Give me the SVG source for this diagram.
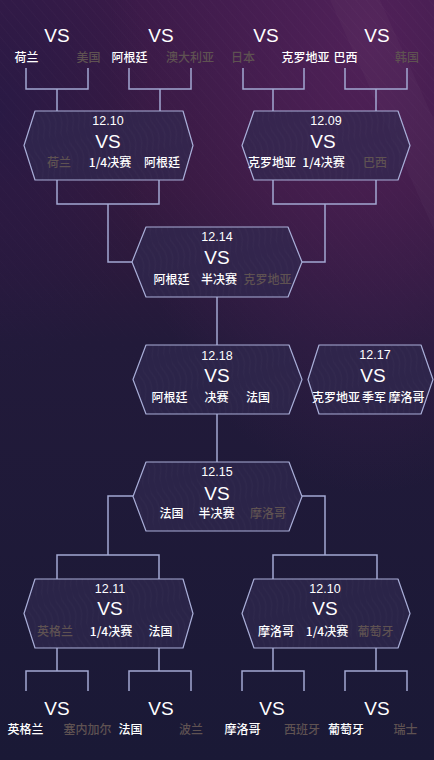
<svg xmlns="http://www.w3.org/2000/svg" width="434" height="760" viewBox="0 0 434 760">
<defs>
<linearGradient id="bg" x1="0" y1="0" x2="0" y2="1">
<stop offset="0" stop-color="#3a1a48"/>
<stop offset="0.25" stop-color="#34193f"/>
<stop offset="0.45" stop-color="#221a3a"/>
<stop offset="1" stop-color="#1a1936"/>
</linearGradient>
<radialGradient id="glow" cx="0.85" cy="0.05" r="0.6">
<stop offset="0" stop-color="#5a2460" stop-opacity="0.7"/>
<stop offset="1" stop-color="#5a2460" stop-opacity="0"/>
</radialGradient>
<radialGradient id="glowL" cx="0" cy="0.15" r="0.35">
<stop offset="0" stop-color="#241a45" stop-opacity="0.7"/>
<stop offset="1" stop-color="#241a45" stop-opacity="0"/>
</radialGradient>
<linearGradient id="fade" x1="0" y1="0" x2="0" y2="1">
<stop offset="0" stop-color="#fff" stop-opacity="1"/>
<stop offset="0.35" stop-color="#fff" stop-opacity="0.6"/>
<stop offset="0.6" stop-color="#fff" stop-opacity="0"/>
</linearGradient>
<pattern id="stripes" width="8" height="8" patternUnits="userSpaceOnUse" patternTransform="rotate(-40)">
<line x1="0" y1="0" x2="0" y2="8" stroke="#ffffff" stroke-width="1" stroke-opacity="0.035"/>
</pattern>
<mask id="fademask"><rect width="434" height="760" fill="url(#fade)"/></mask>
<pattern id="waves" width="6" height="40" patternUnits="userSpaceOnUse" patternTransform="rotate(-15)">
<path d="M2 0 Q7 10 2 20 Q-3 30 2 40" fill="none" stroke="#ffffff" stroke-opacity="0.04" stroke-width="0.7"/>
</pattern>
<style>
.ln{fill:none;stroke:#a3a8d2;stroke-width:1.5}
.hex{fill:#302950;fill-opacity:0.7;stroke:#a9aed8;stroke-width:1.2;stroke-linejoin:round}
.hexw{fill:url(#waves);stroke:none}
text{font-family:"Liberation Sans","Noto Sans CJK SC",sans-serif;text-anchor:middle;dominant-baseline:central}
.vs{font-size:19px;fill:#ffffff}
.dt{font-size:12.5px;fill:#ffffff}
.nm{font-family:"Noto Sans CJK SC",sans-serif;font-size:12px;font-weight:500;fill:#ffffff}
.dim{font-family:"Noto Sans CJK SC",sans-serif;font-size:12px;font-weight:500;fill:#5f5252}
.st{font-family:"Noto Sans CJK SC",sans-serif;font-size:12px;font-weight:500;fill:#ffffff}
</style>
</defs>

<rect width="434" height="760" fill="url(#bg)"/>
<rect width="434" height="760" fill="url(#glow)"/>
<rect width="434" height="760" fill="url(#glowL)"/>
<rect width="434" height="760" fill="url(#stripes)" mask="url(#fademask)"/>
<polygon points="330,0 380,0 434,120 434,230" fill="#ffffff" fill-opacity="0.025"/>

<g id="connectors">
<path class="ln" d="M26 68V89H88V68M57 89V111"/>
<path class="ln" d="M129 68V89H191V68M160 89V111"/>
<path class="ln" d="M243 68V89H304V68M273 89V111"/>
<path class="ln" d="M345 68V89H407V68M376 89V111"/>
<path class="ln" d="M57 180V204H159V180M108 204V262H132"/>
<path class="ln" d="M273 180V204H376V180M325 204V262H302"/>
<path class="ln" d="M217 297V345"/>
<path class="ln" d="M217 414V462"/>
<path class="ln" d="M133 496H108V555M57 579V555H159V579"/>
<path class="ln" d="M302 496H325V555M273 579V555H377V579"/>
<path class="ln" d="M57 648V671M26 691V671H88V691"/>
<path class="ln" d="M159 648V671M129 691V671H191V691"/>
<path class="ln" d="M273 648V671M242 691V671H304V691"/>
<path class="ln" d="M376 648V671M345 691V671H407V691"/>
</g>

<g id="top-matches">
<text class="vs" x="57" y="35">VS</text>
<text class="vs" x="161" y="35">VS</text>
<text class="vs" x="266" y="35">VS</text>
<text class="vs" x="377" y="35">VS</text>
<text class="nm" x="26.5" y="56">荷兰</text>
<text class="dim" x="88.5" y="56">美国</text>
<text class="nm" x="129.5" y="56">阿根廷</text>
<text class="dim" x="190" y="56">澳大利亚</text>
<text class="dim" x="243" y="56">日本</text>
<text class="nm" x="305.5" y="56">克罗地亚</text>
<text class="nm" x="345.5" y="56">巴西</text>
<text class="dim" x="407" y="56">韩国</text>
</g>

<g id="qf1">
<path class="hex" d="M24 145.5L35 111H183L193 145.5L183 180H35Z"/>
<path class="hexw" d="M24 145.5L35 111H183L193 145.5L183 180H35Z"/>
<text class="dt" x="108" y="121">12.10</text>
<text class="vs" x="108" y="141">VS</text>
<text class="dim" x="59" y="161">荷兰</text>
<text class="st" x="110" y="161">1/4决赛</text>
<text class="nm" x="162" y="161">阿根廷</text>
</g>

<g id="qf2">
<path class="hex" d="M242 145.5L254 111H398L410 145.5L398 180H254Z"/>
<path class="hexw" d="M242 145.5L254 111H398L410 145.5L398 180H254Z"/>
<text class="dt" x="326" y="121">12.09</text>
<text class="vs" x="323" y="141">VS</text>
<text class="nm" x="272" y="161">克罗地亚</text>
<text class="st" x="323.5" y="161">1/4决赛</text>
<text class="dim" x="375" y="161">巴西</text>
</g>

<g id="sf1">
<path class="hex" d="M132 262L146 227H288L302 262L288 297H146Z"/>
<path class="hexw" d="M132 262L146 227H288L302 262L288 297H146Z"/>
<text class="dt" x="217" y="237">12.14</text>
<text class="vs" x="217" y="257">VS</text>
<text class="nm" x="171.5" y="278">阿根廷</text>
<text class="st" x="219" y="278">半决赛</text>
<text class="dim" x="267.5" y="278">克罗地亚</text>
</g>

<g id="final">
<path class="hex" d="M133 379.5L146 345H289L302 379.5L289 414H146Z"/>
<path class="hexw" d="M133 379.5L146 345H289L302 379.5L289 414H146Z"/>
<text class="dt" x="217" y="356">12.18</text>
<text class="vs" x="217" y="375">VS</text>
<text class="nm" x="169.5" y="396">阿根廷</text>
<text class="st" x="216.5" y="396">决赛</text>
<text class="nm" x="258" y="396">法国</text>
</g>

<g id="third">
<path class="hex" d="M308 379.5L319 345H421L433 379.5L421 414H319Z"/>
<path class="hexw" d="M308 379.5L319 345H421L433 379.5L421 414H319Z"/>
<text class="dt" x="375" y="355">12.17</text>
<text class="vs" x="373" y="375">VS</text>
<text class="nm" x="336" y="396">克罗地亚</text>
<text class="st" x="374" y="396">季军</text>
<text class="nm" x="406.5" y="396">摩洛哥</text>
</g>

<g id="sf2">
<path class="hex" d="M133 496.5L146 462H289L302 496.5L289 531H146Z"/>
<path class="hexw" d="M133 496.5L146 462H289L302 496.5L289 531H146Z"/>
<text class="dt" x="217" y="472">12.15</text>
<text class="vs" x="217" y="493">VS</text>
<text class="nm" x="171.5" y="512">法国</text>
<text class="st" x="216.5" y="512">半决赛</text>
<text class="dim" x="268" y="512">摩洛哥</text>
</g>

<g id="qf3">
<path class="hex" d="M24 613.5L35 579H183L193 613.5L183 648H35Z"/>
<path class="hexw" d="M24 613.5L35 579H183L193 613.5L183 648H35Z"/>
<text class="dt" x="110" y="589">12.11</text>
<text class="vs" x="110" y="608">VS</text>
<text class="dim" x="55" y="630">英格兰</text>
<text class="st" x="111" y="630">1/4决赛</text>
<text class="nm" x="160.5" y="630">法国</text>
</g>

<g id="qf4">
<path class="hex" d="M242 613.5L254 579H398L410 613.5L398 648H254Z"/>
<path class="hexw" d="M242 613.5L254 579H398L410 613.5L398 648H254Z"/>
<text class="dt" x="325" y="589">12.10</text>
<text class="vs" x="325" y="608">VS</text>
<text class="nm" x="276" y="630">摩洛哥</text>
<text class="st" x="327" y="630">1/4决赛</text>
<text class="dim" x="375.5" y="630">葡萄牙</text>
</g>

<g id="bottom-matches">
<text class="vs" x="57" y="708">VS</text>
<text class="vs" x="161" y="708">VS</text>
<text class="vs" x="272" y="708">VS</text>
<text class="vs" x="377" y="708">VS</text>
<text class="nm" x="25.5" y="728">英格兰</text>
<text class="dim" x="87.5" y="728">塞内加尔</text>
<text class="nm" x="130.5" y="728">法国</text>
<text class="dim" x="191" y="728">波兰</text>
<text class="nm" x="242.5" y="728">摩洛哥</text>
<text class="dim" x="302" y="728">西班牙</text>
<text class="nm" x="346" y="728">葡萄牙</text>
<text class="dim" x="405.5" y="728">瑞士</text>
</g>
</svg>
